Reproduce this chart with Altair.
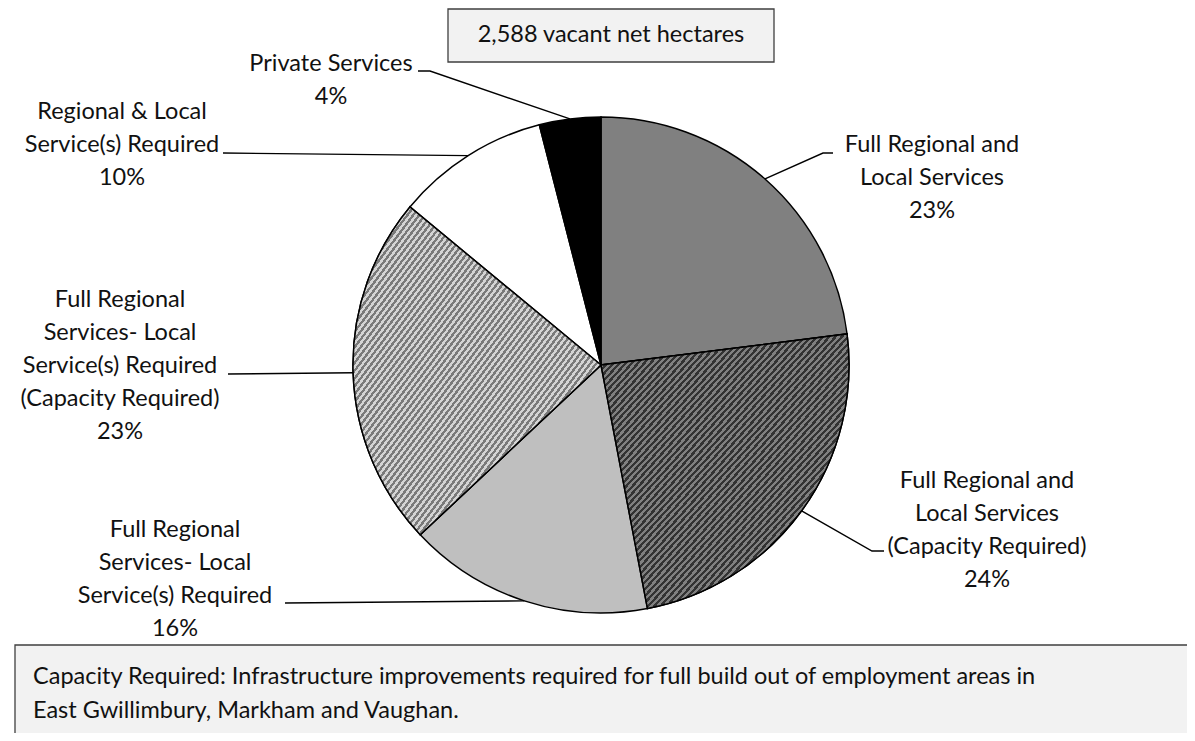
import math
import altair as alt
import pandas as pd

# ---- data ----
categories = [
    "Full Regional and Local Services",
    "Full Regional and Local Services (Capacity Required)",
    "Full Regional Services- Local Service(s) Required",
    "Full Regional Services- Local Service(s) Required (Capacity Required)",
    "Regional & Local Service(s) Required",
    "Private Services",
]
values = [23, 24, 16, 23, 10, 4]
label_lines = [
    ["Full Regional and", "Local Services"],
    ["Full Regional and", "Local Services", "(Capacity Required)"],
    ["Full Regional", "Services- Local", "Service(s) Required"],
    ["Full Regional", "Services- Local", "Service(s) Required", "(Capacity Required)"],
    ["Regional & Local", "Service(s) Required"],
    ["Private Services"],
]
title_text = "2,588 vacant net hectares"
note_lines = [
    "Capacity Required: Infrastructure improvements required for full build out of employment areas in",
    "East Gwillimbury, Markham and Vaughan.",
]

# ---- layout (page pixel coordinates) ----
W, H = 1179, 725
CX, CY, R = 601, 365, 248
FONT = "Lato"
FS = 23.5
LH = 33
label_pos = [(932, 145), (987, 481), (175, 530), (120, 300), (122, 112), (331, 64)]
leader_bends = [
    [(823, 153), (833, 153)],
    [(872, 551), (884, 551)],
    [(285, 603)],
    [(228, 374)],
    [(223, 153)],
    [(430, 71), (418, 71)],
]


def stripes(c1, c2, n):
    stops = []
    for i in range(n):
        a, b, c = i / n, (i + 0.5) / n, (i + 1) / n
        stops += [
            {"offset": round(a, 5), "color": c1},
            {"offset": round(b, 5), "color": c1},
            {"offset": round(b, 5), "color": c2},
            {"offset": round(c, 5), "color": c2},
        ]
    return alt.LinearGradient(gradient="linear", x1=0, y1=0, x2=1, y2=1, stops=stops)


dark_hatch = stripes("#333333", "#808080", 80)
light_hatch = stripes("#7a7a7a", "#d4d4d4", 84)
solid_colors = ["#808080", "#595959", "#bfbfbf", "#a8a8a8", "#ffffff", "#000000"]

total = sum(values)
starts, ends = [], []
cum = 0
for v in values:
    starts.append(cum)
    cum += v
    ends.append(cum)
pie_df = pd.DataFrame(
    {"category": categories, "value": values, "idx": range(len(values)), "start": starts, "end": ends}
)

# leader lines: start at the slice's mid angle on the rim
rows = []
for i, v in enumerate(values):
    mid = (starts[i] + v / 2) / total * 2 * math.pi
    pts = [(CX + R * math.sin(mid), CY - R * math.cos(mid))] + leader_bends[i]
    for j, (px, py) in enumerate(pts):
        rows.append({"slice": i, "pt": j, "x": px, "y": py})
lead_df = pd.DataFrame(rows)

trows = []
for i, lines in enumerate(label_lines):
    full = lines + [f"{values[i]}%"]
    lx, ly = label_pos[i]
    for j, t in enumerate(full):
        trows.append({"x": lx, "y": ly + j * LH, "text": t})
text_df = pd.DataFrame(trows)

box_df = pd.DataFrame(
    {"x": [448, 15], "x2": [774, 1210], "y": [9, 645], "y2": [62, 760]}
)
top_df = pd.DataFrame({"x": [611], "y": [35], "text": [title_text]})
note_df = pd.DataFrame({"x": [33, 33], "y": [677, 711], "text": note_lines})

xs = alt.Scale(domain=[8, 8 + W])
ys = alt.Scale(domain=[8, 8 + H], reverse=True)
X = lambda f="x": alt.X(f"{f}:Q", scale=xs, axis=None)
Y = lambda f="y": alt.Y(f"{f}:Q", scale=ys, axis=None)
TH = alt.Theta("start:Q", scale=alt.Scale(domain=[0, total], range=[0, 2 * math.pi]))

boxes = alt.Chart(box_df).mark_rect(fill="#f2f2f2", stroke="#3f3f3f", strokeWidth=1.3).encode(
    x=X(), x2="x2:Q", y=Y(), y2="y2:Q"
)

arc_kw = dict(radius=R, x=CX - 8, y=CY - 8, stroke="black", strokeWidth=1.5)
pie = alt.Chart(pie_df).mark_arc(**arc_kw).encode(
    theta=TH,
    theta2="end:Q",
    fill=alt.Fill("category:N", scale=alt.Scale(domain=categories, range=solid_colors), legend=None),
)
hatch1 = alt.Chart(pie_df).transform_filter(alt.datum.idx == 1).mark_arc(fill=dark_hatch, **arc_kw).encode(
    theta=TH, theta2="end:Q"
)
hatch2 = alt.Chart(pie_df).transform_filter(alt.datum.idx == 3).mark_arc(fill=light_hatch, **arc_kw).encode(
    theta=TH, theta2="end:Q"
)

leaders = alt.Chart(lead_df).mark_line(color="black", strokeWidth=1.4).encode(
    x=X(), y=Y(), detail="slice:N", order="pt:Q"
)

txt_kw = dict(font=FONT, fontSize=FS, color="#111111", baseline="middle")
labels = alt.Chart(text_df).mark_text(align="center", **txt_kw).encode(
    x=X(), y=Y(), text="text:N"
)
top_text = alt.Chart(top_df).mark_text(align="center", **txt_kw).encode(
    x=X(), y=Y(), text="text:N"
)
note_text = alt.Chart(note_df).mark_text(align="left", **txt_kw).encode(
    x=X(), y=Y(), text="text:N"
)

chart = (
    alt.layer(boxes, pie, hatch1, hatch2, leaders, labels, top_text, note_text)
    .properties(width=W, height=H, autosize=alt.AutoSizeParams(type="none"), padding=0)
    .configure_view(stroke=None)
)

chart.save("out.html", embed_options={"renderer": "svg", "actions": False})
